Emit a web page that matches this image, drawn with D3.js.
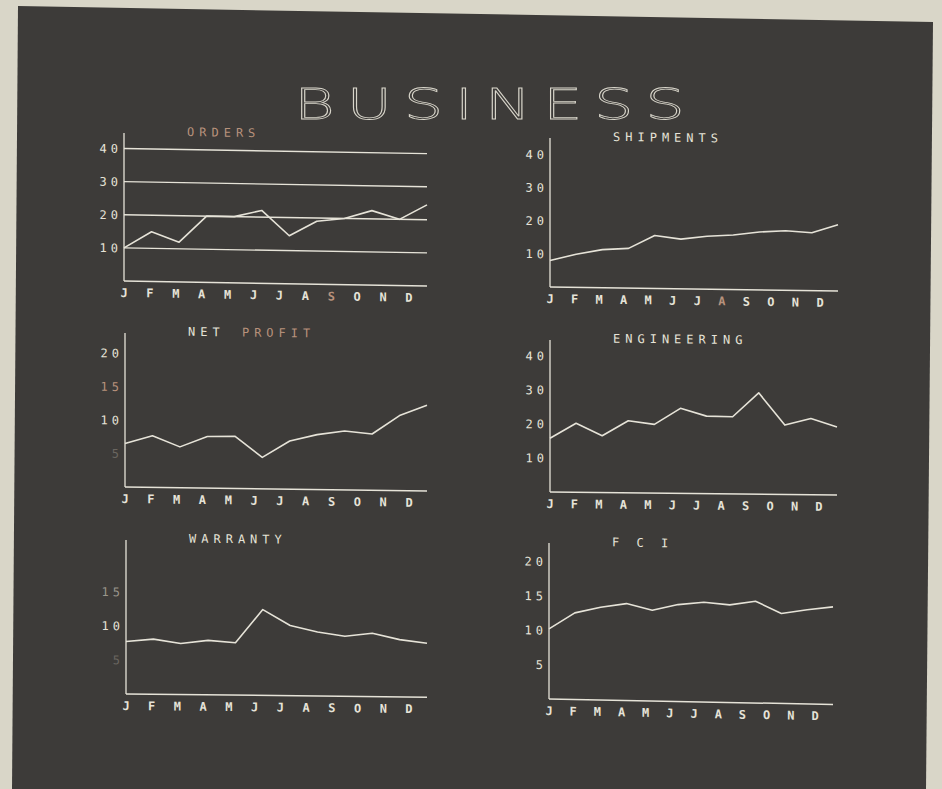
<!DOCTYPE html>
<html>
<head>
<meta charset="utf-8">
<script src="https://cdn.jsdelivr.net/npm/d3@7"></script>
<style>
  body { margin: 0; background: #d9d6c8; }
  svg { display: block; }
</style>
</head>
<body>
<div id="screen"></div>
<script>
// data
const months = ["J", "F", "M", "A", "M", "J", "J", "A", "S", "O", "N", "D"];

const orders      = [10, 15, 12, 20, 20, 22, 14.5, 19, 20, 22.5, 20, 24.5];
const shipments   = [8, 10, 11.5, 12, 16, 15, 16, 16.5, 17.5, 18, 17.5, 20];
const netProfit   = [6.5, 7.7, 6.1, 7.7, 7.8, 4.7, 7.2, 8.2, 8.8, 8.4, 11.2, 12.8];
const engineering = [15.8, 20.3, 16.7, 21.2, 20.2, 25, 22.8, 22.7, 29.8, 20.4, 22.4, 20];
const warranty    = [7.7, 8.1, 7.5, 8.0, 7.7, 12.6, 10.3, 9.4, 8.8, 9.3, 8.4, 7.9];
const fci         = [10.2, 12.6, 13.5, 14.1, 13.2, 14.1, 14.5, 14.2, 14.8, 13.1, 13.7, 14.2];

const ordersTicks      = [10, 20, 30, 40];
const shipmentsTicks   = [10, 20, 30, 40];
const netProfitTicks   = [5, 10, 15, 20];
const engineeringTicks = [10, 20, 30, 40];
const warrantyTicks    = [5, 10, 15];
const fciTicks         = [5, 10, 15, 20];

// colours of the CRT
const bg = "#3d3b39", ink = "#e6e3d8", orange = "#b8927c", dim = "#6a6660";

const width = 942, height = 789;

const svg = d3.select("#screen")
  .append("svg")
  .attr("width", width)
  .attr("height", height);

// the screen itself
svg.append("polygon")
  .attr("points", "18,6 933,22 926,789 12,789")
  .attr("fill", bg);

// big outlined title, glyphs stretched wide like the vector font
svg.append("text")
  .attr("transform", "translate(294, 119) scale(1.45, 1)")
  .style("font-family", "DejaVu Sans")
  .style("font-size", "43px")
  .style("font-weight", 200)
  .style("letter-spacing", "8px")
  .attr("fill", "none")
  .attr("stroke", "#d8d5ca")
  .attr("stroke-width", 0.8)
  .text("BUSINESS");

// panel layout: axis origin, width, top, y max
const panels = [
  {title: [["ORDERS", orange]], values: orders, ticks: ordersTicks, grid: true,
   x0: 124, y0: 281, w: 303, top: 133, max: 44.7, skew: 0.95, hi: {8: orange}},
  {title: [["SHIPMENTS", ink]], values: shipments, ticks: shipmentsTicks,
   x0: 550, y0: 287, w: 288, top: 138, max: 45, skew: 0.8, hi: {7: orange}},
  {title: [["NET ", ink], ["PROFIT", orange, 5]], values: netProfit, ticks: netProfitTicks,
   x0: 125, y0: 487, w: 302, top: 333, max: 23, skew: 0.75, tickColor: {5: dim, 15: orange}},
  {title: [["ENGINEERING", ink]], values: engineering, ticks: engineeringTicks,
   x0: 550, y0: 492, w: 287, top: 340, max: 44.7, skew: 0.6},
  {title: [["WARRANTY", ink]], values: warranty, ticks: warrantyTicks,
   x0: 126, y0: 694, w: 301, top: 540, max: 22.6, skew: 0.6, tickColor: {5: dim, 15: "#9a968c"}},
  {title: [["F C I", ink]], values: fci, ticks: fciTicks,
   x0: 549, y0: 699, w: 284, top: 543, max: 22.7, skew: 1.1}
];

const mono = "DejaVu Sans Mono";

panels.forEach(function(p) {
  const g = svg.append("g")
    .attr("transform", `translate(${p.x0}, ${p.y0}) skewY(${p.skew})`);

  const x = d3.scalePoint()
    .domain(d3.range(months.length))
    .range([0, p.w]);

  // month letters sit a little tighter than the data points
  const xl = d3.scalePoint()
    .domain(d3.range(months.length))
    .range([0, p.w - 18]);

  const y = d3.scaleLinear()
    .domain([0, p.max])
    .range([0, -(p.y0 - p.top)]);

  // axes
  g.append("line")
    .attr("x1", 0).attr("x2", 0)
    .attr("y1", 0).attr("y2", y(p.max))
    .attr("stroke", ink).attr("stroke-width", 1.3);
  g.append("line")
    .attr("x1", 0).attr("x2", p.w)
    .attr("y1", 0).attr("y2", 0)
    .attr("stroke", ink).attr("stroke-width", 1.5);

  // gridlines (only ORDERS has them)
  if (p.grid) {
    g.selectAll(".grid")
      .data(p.ticks)
      .join("line")
      .attr("x1", 0).attr("x2", p.w)
      .attr("y1", d => y(d)).attr("y2", d => y(d))
      .attr("stroke", ink).attr("stroke-width", 1.4);
  }

  // tick labels
  g.selectAll(".tick")
    .data(p.ticks)
    .join("text")
    .attr("x", -2)
    .attr("y", d => y(d) + 4.5)
    .attr("text-anchor", "end")
    .style("font-family", mono)
    .style("font-size", "12px")
    .style("letter-spacing", "4px")
    .style("font-variant-numeric", "slashed-zero")
    .attr("fill", d => (p.tickColor && p.tickColor[d]) || ink)
    .text(d => d);

  // month letters
  g.selectAll(".month")
    .data(months)
    .join("text")
    .attr("x", (d, i) => xl(i))
    .attr("y", 16)
    .attr("text-anchor", "middle")
    .style("font-family", mono)
    .style("font-size", "12px")
    .style("font-weight", "bold")
    .attr("fill", (d, i) => (p.hi && p.hi[i]) || ink)
    .text(d => d);

  // the series line
  const line = d3.line()
    .x((d, i) => x(i))
    .y(d => y(d));

  g.append("path")
    .datum(p.values)
    .attr("d", line)
    .attr("fill", "none")
    .attr("stroke", ink)
    .attr("stroke-width", 1.6)
    .attr("stroke-linejoin", "round");

  // title, letter spaced like the terminal font
  const t = g.append("text")
    .attr("x", 63)
    .attr("y", y(p.max) + 2)
    .style("font-family", mono)
    .style("font-size", "12px")
    .style("letter-spacing", "5px")
    .style("white-space", "pre");
  p.title.forEach(function(part) {
    t.append("tspan")
      .attr("fill", part[1])
      .attr("dx", part[2] || 0)
      .text(part[0]);
  });
});
</script>
</body>
</html>
